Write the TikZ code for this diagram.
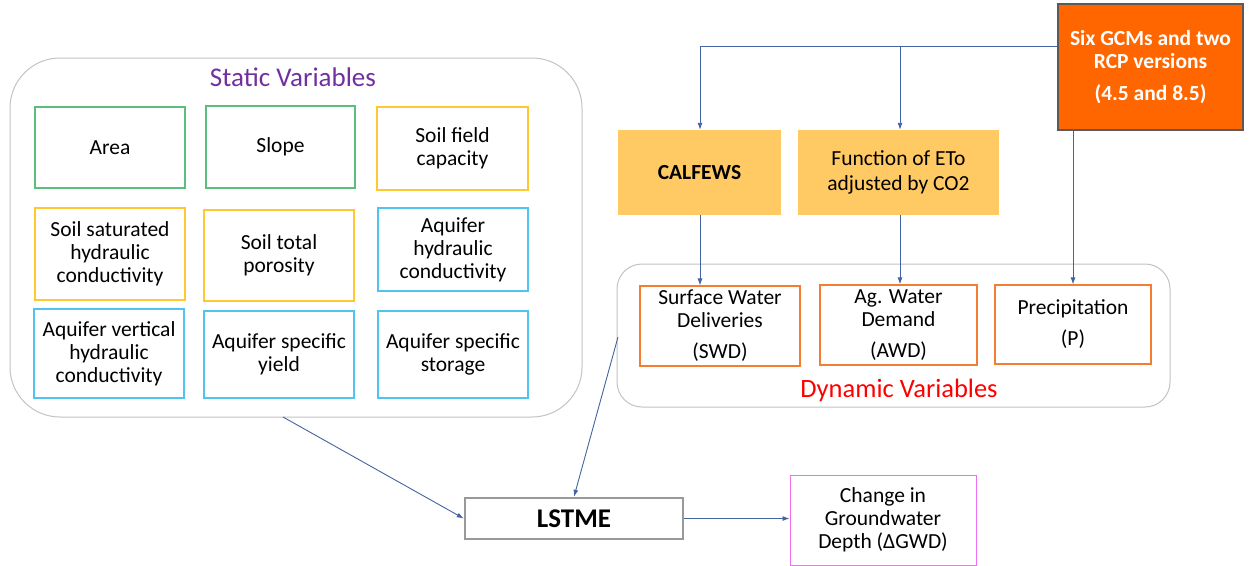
\documentclass[tikz,border=0pt]{standalone}
\usepackage{fontspec}
\setmainfont{Carlito}
\usetikzlibrary{arrows.meta,positioning}
\definecolor{cgreen}{RGB}{90,190,125}
\definecolor{cyellow}{RGB}{255,200,50}
\definecolor{ccyan}{RGB}{80,195,240}
\definecolor{corange}{RGB}{245,125,50}
\definecolor{cpink}{RGB}{240,110,240}
\definecolor{cpurple}{RGB}{112,48,160}
\definecolor{cred}{RGB}{255,0,0}
\definecolor{cgold}{RGB}{255,202,100}
\definecolor{cgcm}{RGB}{255,102,0}
\definecolor{cgcmb}{RGB}{90,90,90}
\definecolor{carrow}{RGB}{68,100,160}
\definecolor{cframe}{RGB}{195,195,195}
\tikzset{
  var/.style={draw, line width=1.1pt, align=center, inner sep=0pt,
    font=\fontsize{21.5}{23}\selectfont, text=black},
  gvar/.style={var, draw=cgreen},
  yvar/.style={var, draw=cyellow},
  cvar/.style={var, draw=ccyan},
  ovar/.style={var, draw=corange},
  frame/.style={draw=cframe, line width=1pt},
  arr/.style={draw=carrow, line width=0.9pt, -{Latex[length=7pt,width=5pt]}},
  goldbox/.style={fill=cgold, draw=none, align=center, inner sep=0pt,
    font=\fontsize{21.5}{25}\selectfont}
}
\begin{document}
\begin{tikzpicture}[x=1pt,y=-1pt]
\useasboundingbox (0,0) rectangle (1249,565);
\fill[white] (0,0) rectangle (1249,565);
% Static variables frame
\draw[frame, rounded corners=50pt] (10,58) rectangle (582,417);
\node[text=cpurple, font=\fontsize{27}{30}\selectfont] (stitle) at (293,77) {Static Variables};
\coordinate (sbot) at (283,417);
% Static boxes
\node[gvar, minimum width=150pt, minimum height=81pt] (area) at (110,147.5) {Area};
\node[gvar, minimum width=149pt, minimum height=82pt] (slope) at (280.5,147) {Slope};
\node[yvar, minimum width=151pt, minimum height=83pt] (sfc) at (452.5,148.5) {Soil field\\capacity};
\node[yvar, minimum width=150pt, minimum height=92pt] (ssh) at (110,254) {Soil saturated\\hydraulic\\conductivity};
\node[yvar, minimum width=150pt, minimum height=91pt] (stp) at (279,255.5) {Soil total\\porosity};
\node[cvar, minimum width=150pt, minimum height=83pt] (ahc) at (453,249.5) {Aquifer\\hydraulic\\conductivity};
\node[cvar, minimum width=150pt, minimum height=89pt] (avh) at (109,353.5) {Aquifer vertical\\hydraulic\\conductivity};
\node[cvar, minimum width=150pt, minimum height=87pt] (asy) at (279,354.5) {Aquifer specific\\yield};
\node[cvar, minimum width=150pt, minimum height=87pt] (ass) at (453,354.5) {Aquifer specific\\storage};
% GCM box
\node[fill=cgcm, draw=cgcmb, line width=1.2pt, minimum width=185pt, minimum height=126pt,
  inner sep=0pt, align=center, text=white, font=\bfseries\fontsize{21.5}{23}\selectfont]
  (gcm) at (1150.5,67) {Six GCMs and two\\RCP versions\\[9pt](4.5 and 8.5)};
% gold boxes
\node[goldbox, minimum width=163pt, minimum height=85pt, font=\bfseries\fontsize{21.5}{25}\selectfont] (calf) at (699.5,172.5) {CALFEWS};
\node[goldbox, minimum width=201pt, minimum height=85pt] (eto) at (898.5,172.5) {Function of ETo\\adjusted by CO2};
% Dynamic frame
\draw[frame, rounded corners=25pt] (617,264) rectangle (1170,407);
\coordinate (dleft) at (618,337);
\node[text=cred, font=\fontsize{26.5}{30}\selectfont] (dtitle) at (899,390) {Dynamic Variables};
\node[ovar, minimum width=160pt, minimum height=80pt] (swd) at (720,326) {Surface Water\\Deliveries\\[8pt](SWD)};
\node[ovar, minimum width=157pt, minimum height=80pt] (awd) at (898.5,325) {Ag. Water\\Demand\\[8pt](AWD)};
\node[ovar, minimum width=156pt, minimum height=79pt] (prec) at (1073,324.5) {Precipitation\\[8pt](P)};
% LSTME
\node[draw=gray!80, line width=2.5pt, minimum width=218pt, minimum height=41pt, inner sep=0pt,
  font=\bfseries\fontsize{27}{30}\selectfont] (lstme) at (574,518.5) {LSTME};
\node[var, draw=cpink, line width=1pt, minimum width=186pt, minimum height=90pt] (gwd) at (883,520) {Change in\\Groundwater\\Depth (ΔGWD)};
% connectors
\coordinate (jl) at (700,46);
\coordinate (jm) at (900,46);
\draw[draw=carrow, line width=0.9pt] (gcm.west |- jl) -- (jl);
\draw[arr] (jl) -- (jl |- calf.north);
\draw[arr] (jm) -- (jm |- eto.north);
\draw[arr] (calf.south -| jl) -- (swd.north -| jl);
\draw[arr] (eto.south -| jm) -- (awd.north -| jm);
\draw[arr] (gcm.south -| prec.north) -- (prec.north);
\draw[arr] (sbot) -- (lstme.west);
\draw[arr] (dleft) -- (lstme.north);
\draw[arr] (lstme.east) -- (lstme.east -| gwd.west);
\end{tikzpicture}
\end{document}
